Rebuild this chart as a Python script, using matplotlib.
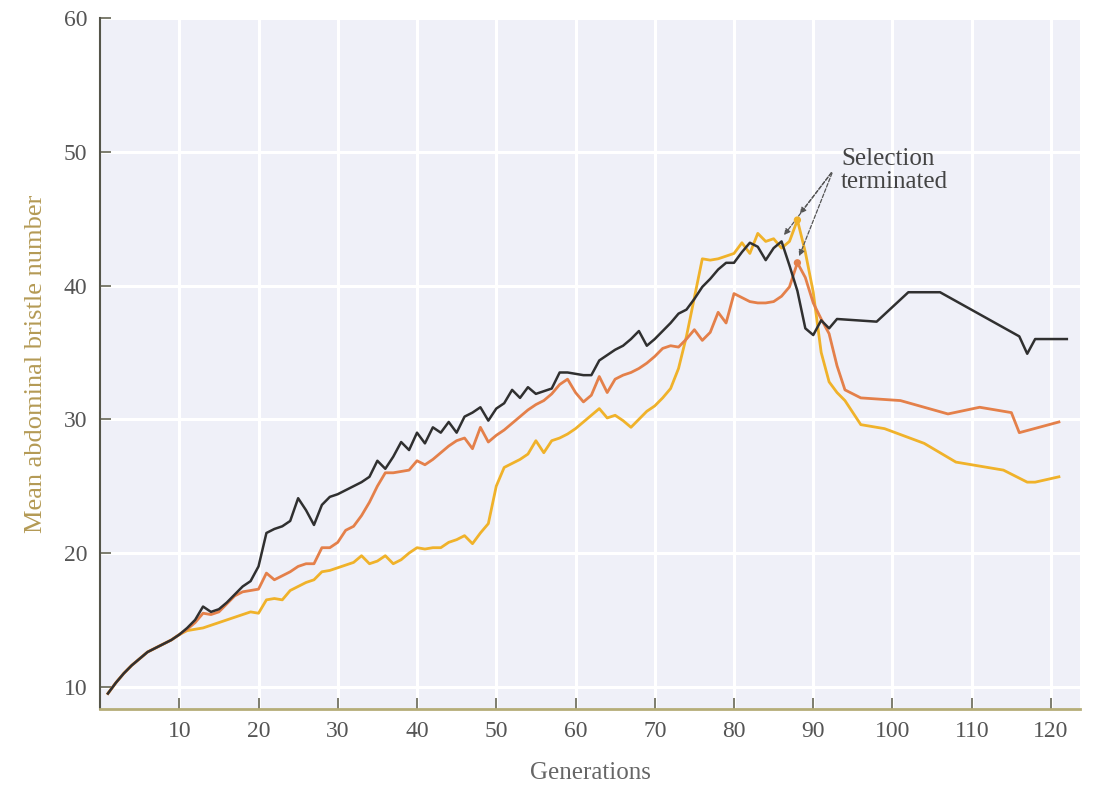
import matplotlib.pyplot as plt

# Dati: generazioni e numero medio di setole addominali
gen_nero = list(range(1, 94)) + [98, 102, 106, 116, 117, 118, 122]
val_nero = [9.5, 10.3, 11.0, 11.6, 12.1, 12.6, 12.9, 13.2, 13.5, 13.9,
            14.4, 15.0, 16.0, 15.6, 15.8, 16.3, 16.9, 17.5, 17.9, 19.0,
            21.5, 21.8, 22.0, 22.4, 24.1, 23.2, 22.1, 23.6, 24.2, 24.4,
            24.7, 25.0, 25.3, 25.7, 26.9, 26.3, 27.2, 28.3, 27.7, 29.0,
            28.2, 29.4, 29.0, 29.8, 29.0, 30.2, 30.5, 30.9, 29.9, 30.8,
            31.2, 32.2, 31.6, 32.4, 31.9, 32.1, 32.3, 33.5, 33.5, 33.4,
            33.3, 33.3, 34.4, 34.8, 35.2, 35.5, 36.0, 36.6, 35.5, 36.0,
            36.6, 37.2, 37.9, 38.2, 39.0, 39.9, 40.5, 41.2, 41.7, 41.7,
            42.5, 43.2, 42.9, 41.9, 42.8, 43.3, 41.5, 39.6, 36.8, 36.3,
            37.4, 36.8, 37.5,
            37.3, 39.5, 39.5, 36.2, 34.9, 36.0, 36.0]

gen_arancio = list(range(1, 95)) + [96, 101, 107, 111, 115, 116, 121]
val_arancio = [9.5, 10.3, 11.0, 11.6, 12.1, 12.6, 12.9, 13.2, 13.5, 13.9,
               14.3, 14.8, 15.5, 15.4, 15.6, 16.2, 16.8, 17.1, 17.2, 17.3,
               18.5, 18.0, 18.3, 18.6, 19.0, 19.2, 19.2, 20.4, 20.4, 20.8,
               21.7, 22.0, 22.8, 23.8, 25.0, 26.0, 26.0, 26.1, 26.2, 26.9,
               26.6, 27.0, 27.5, 28.0, 28.4, 28.6, 27.8, 29.4, 28.3, 28.8,
               29.2, 29.7, 30.2, 30.7, 31.1, 31.4, 31.9, 32.6, 33.0, 32.0,
               31.3, 31.8, 33.2, 32.0, 33.0, 33.3, 33.5, 33.8, 34.2, 34.7,
               35.3, 35.5, 35.4, 36.0, 36.7, 35.9, 36.5, 38.0, 37.2, 39.4,
               39.1, 38.8, 38.7, 38.7, 38.8, 39.2, 39.9, 41.7, 40.6, 38.7,
               37.5, 36.4, 34.0, 32.2,
               31.6, 31.4, 30.4, 30.9, 30.5, 29.0, 29.8]

gen_giallo = list(range(1, 97)) + [99, 104, 108, 114, 116, 117, 118, 121]
val_giallo = [9.5, 10.3, 11.0, 11.6, 12.1, 12.6, 12.9, 13.2, 13.5, 13.9,
              14.2, 14.3, 14.4, 14.6, 14.8, 15.0, 15.2, 15.4, 15.6, 15.5,
              16.5, 16.6, 16.5, 17.2, 17.5, 17.8, 18.0, 18.6, 18.7, 18.9,
              19.1, 19.3, 19.8, 19.2, 19.4, 19.8, 19.2, 19.5, 20.0, 20.4,
              20.3, 20.4, 20.4, 20.8, 21.0, 21.3, 20.7, 21.5, 22.2, 25.0,
              26.4, 26.7, 27.0, 27.4, 28.4, 27.5, 28.4, 28.6, 28.9, 29.3,
              29.8, 30.3, 30.8, 30.1, 30.3, 29.9, 29.4, 30.0, 30.6, 31.0,
              31.6, 32.3, 33.8, 36.2, 39.1, 42.0, 41.9, 42.0, 42.2, 42.4,
              43.2, 42.4, 43.9, 43.3, 43.5, 42.8, 43.3, 44.9, 42.5, 39.5,
              35.0, 32.8, 32.0, 31.4, 30.5, 29.6,
              29.3, 28.2, 26.8, 26.2, 25.6, 25.3, 25.3, 25.7]

# punti in cui la selezione e' stata interrotta
fine_sel_gen = [86, 88, 88]
fine_sel_val = [43.3, 44.9, 41.7]

x_ticks = [10, 20, 30, 40, 50, 60, 70, 80, 90, 100, 110, 120]
y_ticks = [10, 20, 30, 40, 50, 60]

plt.rcParams['font.family'] = ['Liberation Serif', 'DejaVu Serif']

fig = plt.figure(figsize=(10.99, 7.85), dpi=100)
ax = fig.add_axes([0.091, 0.097, 0.892, 0.880])
ax.set_facecolor('#eff0f8')

ax.plot(gen_giallo, val_giallo, color='#f0b22a', lw=2.0, zorder=3)
ax.plot(gen_arancio, val_arancio, color='#e4804a', lw=2.0, zorder=4)
ax.plot(gen_nero, val_nero, color='#303030', lw=1.8, zorder=5)
ax.scatter(fine_sel_gen[1:], fine_sel_val[1:], s=18,
           color=['#f0b22a', '#e4804a'], zorder=6)

ax.set_xlim(0, 123.7)
ax.set_ylim(8.35, 60)
ax.set_xticks(x_ticks)
ax.set_yticks(y_ticks)
ax.grid(True, color='white', lw=2.2, zorder=0)
ax.set_axisbelow(True)

for s in ['top', 'right']:
    ax.spines[s].set_visible(False)
ax.spines['left'].set_color('#55554a')
ax.spines['bottom'].set_color('#b5ad78')
ax.spines['left'].set_linewidth(1.5)
ax.spines['bottom'].set_linewidth(2.0)

ax.tick_params(axis='both', direction='in', length=8, width=1.2,
               labelsize=17, labelcolor='#555555', color='#666655', pad=9)

ax.set_xlabel('Generations', fontsize=18, color='#666666', labelpad=14)
ax.set_ylabel('Mean abdominal bristle number', fontsize=19, color='#b49a55',
              labelpad=12)

# annotazione con le frecce
ax.text(93.5, 50.3, 'Selection\nterminated', fontsize=18, color='#444444',
        ha='left', va='top', linespacing=1.05)
for g, v in zip(fine_sel_gen, fine_sel_val):
    ax.annotate('', xy=(g + 0.1, v + 0.3), xytext=(92.5, 48.6),
                arrowprops=dict(arrowstyle='-|>', color='#555555', lw=0.9,
                                linestyle=(0, (3, 1.5)), mutation_scale=9))

fig.savefig('out.png', dpi=100)
